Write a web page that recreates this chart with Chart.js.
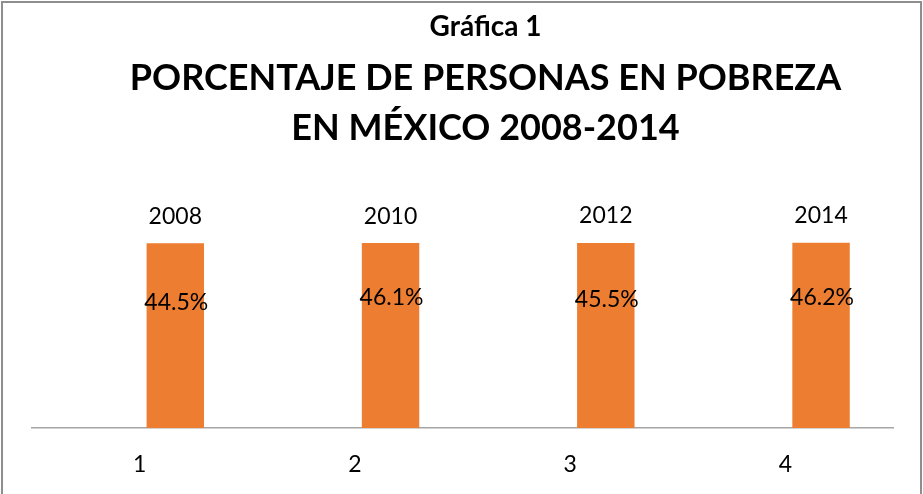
<!DOCTYPE html>
<html>
<head>
<meta charset="utf-8">
<script src="https://cdn.jsdelivr.net/npm/chart.js@4"></script>
<style>
  html, body { margin: 0; padding: 0; background: #ffffff; }
  #wrap { width: 923px; height: 494px; position: relative; }
</style>
</head>
<body>
<div id="wrap"><canvas id="c" width="923" height="494"></canvas></div>
<script>
// ---- data ----
const categories = ["1", "2", "3", "4"];
const years = [2008, 2010, 2012, 2014];
const percentLabels = ["44.5%", "46.1%", "45.5%", "46.2%"];
const percentValues = [44.5, 46.1, 45.5, 46.2];
const titleSmall = "Gráfica 1";
const titleLines = ["PORCENTAJE DE PERSONAS EN POBREZA", "EN MÉXICO 2008-2014"];

const FONT = "Lato, 'Open Sans', sans-serif";

const decorPlugin = {
  id: 'decor',
  afterDraw(chart) {
    const ctx = chart.ctx;
    ctx.save();
    // outer frame
    ctx.strokeStyle = '#8e8e8e';
    ctx.lineWidth = 2;
    ctx.beginPath();
    ctx.moveTo(2, 500); ctx.lineTo(2, 2); ctx.lineTo(921, 2); ctx.lineTo(921, 500);
    ctx.stroke();
    // titles
    ctx.fillStyle = '#000000';
    ctx.textAlign = 'center';
    ctx.textBaseline = 'middle';
    const cx = chart.width / 2 + 24;
    ctx.font = "bold 28px " + FONT;
    ctx.fillText(titleSmall, cx, 27);
    ctx.font = "bold 36px " + FONT;
    ctx.fillText(titleLines[0], cx, 78);
    ctx.fillText(titleLines[1], cx, 128);
    // data labels
    const pctMeta = chart.getDatasetMeta(0);
    const yearMeta = chart.getDatasetMeta(1);
    ctx.font = "23px " + FONT;
    yearMeta.data.forEach((bar, i) => {
      ctx.fillText(String(years[i]), bar.x, bar.y - 27);
      ctx.fillText(percentLabels[i], bar.x + 1, pctMeta.data[i].y);
    });
    ctx.restore();
  }
};

new Chart(document.getElementById('c'), {
  type: 'bar',
  data: {
    labels: categories,
    datasets: [
      {
        label: 'Porcentaje',
        data: percentValues,
        yAxisID: 'y2',
        backgroundColor: 'rgba(0,0,0,0)',
        borderWidth: 0,
        categoryPercentage: 0.663,
        barPercentage: 0.805
      },
      {
        label: 'Año',
        data: years,
        yAxisID: 'y',
        backgroundColor: '#ED7D31',
        borderWidth: 0,
        categoryPercentage: 0.663,
        barPercentage: 0.805
      }
    ]
  },
  plugins: [decorPlugin],
  options: {
    responsive: false,
    animation: false,
    layout: { padding: { left: 32, right: 30, top: 198, bottom: 0 } },
    plugins: {
      legend: { display: false },
      title: { display: false },
      tooltip: { enabled: false }
    },
    scales: {
      x: {
        grid: { display: false, drawTicks: false },
        border: { display: true, color: '#a6a6a6', width: 1.5 },
        ticks: { color: '#000000', font: { family: FONT, size: 23 }, padding: 23 },
        afterFit(scale) { scale.height = 66; }
      },
      y: {
        display: false,
        min: 0,
        max: 2500
      },
      y2: {
        display: false,
        min: 2,
        max: 80
      }
    }
  }
});
</script>
</body>
</html>
